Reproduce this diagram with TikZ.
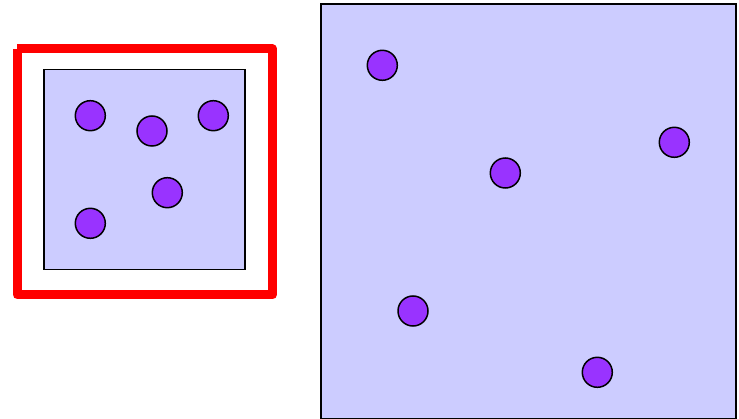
\documentclass[tikz,border=0pt]{standalone}
\usetikzlibrary{positioning}
\definecolor{boxfill}{HTML}{CCCCFF}
\definecolor{dotfill}{HTML}{9933FF}
\begin{document}
\begin{tikzpicture}[x=1pt,y=-1pt,
  dot/.style={circle,draw=black,fill=dotfill,line width=1.5pt,minimum size=30pt,inner sep=0pt},
  panel/.style={draw=black,fill=boxfill,line width=1.4pt},
  frame/.style={draw=red,line width=9pt,line join=round}]
\useasboundingbox (0,0) rectangle (739,419);
% red frame
\draw[frame] (17,49) -- (272.5,49) -- (272.5,295) -- (17,295) -- (17,49);
% small panel
\path[panel] (44,69.5) rectangle (245,269.5);
\node[dot] (s1) at (90.3,115.7) {};
\node[dot] (s2) at (152,131) {};
\node[dot] (s3) at (213.3,115.7) {};
\node[dot] (s4) at (167.3,192.7) {};
\node[dot] (s5) at (90.3,223.3) {};
% large panel
\path[panel] (321,4) rectangle (736,418.3);
\node[dot] (b1) at (382.3,65.3) {};
\node[dot] (b2) at (505.3,173) {};
\node[dot] (b3) at (674.3,142.3) {};
\node[dot] (b4) at (413,311) {};
\node[dot] (b5) at (597.3,372.3) {};
\end{tikzpicture}
\end{document}
